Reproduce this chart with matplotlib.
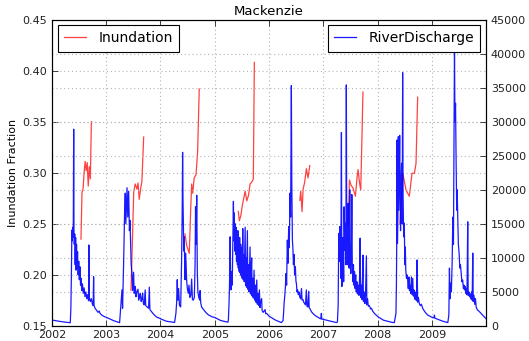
import matplotlib
matplotlib.use("Agg")
import matplotlib.pyplot as plt
import matplotlib.dates as mdates
import numpy as np
import pandas as pd

# river discharge: (day of year, value) per year
q_2002 = [(0, 880), (45, 700), (90, 560), (123, 480), (127, 2600), (130, 6800), (134, 14100),
          (137, 12500), (140, 14500), (143, 13000), (146, 28900), (148, 14000), (150, 12000),
          (153, 13500), (156, 9000), (159, 13000), (162, 8200), (165, 12000), (168, 8500),
          (172, 10900), (176, 7500), (180, 9500), (184, 6800), (188, 8700), (192, 6000),
          (196, 7000), (200, 5200), (205, 6200), (210, 4800), (216, 5600), (222, 4300),
          (228, 5000), (234, 4000), (240, 4600), (246, 3700), (248, 11900), (251, 4200),
          (258, 3600), (265, 4000), (272, 3200), (277, 3000), (280, 7240), (283, 3000),
          (290, 2600), (300, 2300), (310, 2000), (318, 2200), (322, 1900), (335, 1600),
          (350, 1400), (364, 1280)]
q_2003 = [(0, 1280), (50, 780), (90, 490), (99, 3300), (106, 5300), (110, 2600), (117, 9200),
          (124, 17000), (128, 19500), (132, 15000), (140, 20300), (145, 16000), (151, 19800),
          (156, 14000), (160, 15500), (164, 12000), (168, 9000), (173, 7700), (178, 5200),
          (184, 7900), (188, 4800), (192, 5200), (196, 5800), (200, 4300), (206, 5000),
          (214, 5400), (218, 3800), (224, 4300), (229, 4800), (235, 3600), (240, 3900),
          (245, 4800), (250, 3300), (256, 3100), (262, 5300), (266, 3000), (275, 2800),
          (285, 2600), (290, 5700), (294, 2400), (305, 2100), (320, 1700), (340, 1300),
          (364, 1100)]
q_2004 = [(0, 1050), (40, 700), (95, 520), (104, 1860), (109, 3500), (113, 6800), (117, 3800),
          (122, 5500), (128, 3000), (136, 2800), (142, 9300), (146, 16000), (149, 25500),
          (152, 18000), (154, 15100), (157, 11000), (160, 13100), (165, 6800), (170, 10700),
          (176, 6800), (181, 5500), (187, 4800), (192, 6000), (198, 4200), (204, 4500),
          (210, 6900), (215, 3900), (221, 3800), (228, 4200), (233, 9000), (236, 17500),
          (240, 12000), (244, 19200), (248, 8000), (252, 5000), (258, 4200), (264, 3800),
          (267, 5200), (271, 3400), (277, 2800), (290, 2400), (311, 1860), (325, 1600),
          (335, 1500), (344, 1370), (364, 1250)]
q_2005 = [(0, 1250), (40, 800), (88, 560), (91, 900), (95, 3000), (98, 5300), (101, 9000),
          (103, 13100), (106, 7000), (109, 5300), (113, 8000), (117, 6000), (121, 12000),
          (125, 18300), (128, 12500), (131, 16600), (134, 11000), (137, 15000), (140, 10500),
          (143, 14500), (146, 9500), (149, 13500), (152, 9000), (155, 14000), (158, 8500),
          (161, 12500), (164, 8000), (167, 13000), (170, 7800), (174, 12000), (177, 7400),
          (181, 11500), (184, 7000), (188, 14300), (191, 6800), (195, 10500), (198, 6500),
          (201, 11000), (204, 14500), (207, 6000), (210, 10000), (213, 5700), (216, 9500),
          (219, 14000), (222, 5400), (226, 9000), (230, 5000), (234, 8500), (237, 11600),
          (240, 4700), (244, 8000), (248, 10000), (251, 4400), (255, 7000), (259, 4100),
          (264, 8200), (268, 3800), (273, 6000), (277, 3500), (282, 6750), (286, 3200),
          (291, 4800), (295, 3000), (300, 5300), (304, 2700), (308, 3500), (315, 4000),
          (318, 2300), (325, 2000), (338, 2400), (342, 1800), (349, 1860), (364, 1450)]
q_2006 = [(0, 1450), (40, 900), (83, 500), (94, 800), (98, 2000), (101, 3300), (106, 4500),
          (110, 5800), (114, 7700), (118, 6000), (123, 12600), (127, 9200), (132, 14600),
          (136, 11500), (141, 19500), (145, 16000), (150, 35300), (153, 21000), (157, 12600),
          (160, 11600), (164, 9000), (168, 10500), (172, 7500), (177, 8700), (181, 6500),
          (184, 6300), (188, 5000), (192, 5300), (197, 4600), (202, 5000), (206, 4300),
          (212, 4000), (218, 5500), (222, 3800), (228, 3900), (233, 3500), (240, 3300),
          (245, 3100), (251, 5300), (255, 2900), (261, 2800), (267, 5100), (270, 2700),
          (276, 2500), (285, 2100), (295, 1850), (307, 1600), (320, 1400), (335, 1200),
          (348, 1050), (352, 1860), (355, 1000), (364, 980)]
q_2007 = [(0, 980), (40, 750), (90, 500), (95, 600), (100, 3000), (104, 13600), (107, 9500),
          (111, 14600), (115, 13000), (118, 7000), (122, 28400), (125, 5800), (129, 8700),
          (133, 13000), (137, 6500), (140, 17500), (144, 11100), (148, 15100), (152, 9000),
          (155, 35400), (158, 12000), (161, 9000), (164, 13500), (167, 18000), (170, 10400),
          (174, 8500), (178, 20000), (181, 9000), (185, 7700), (189, 12000), (192, 19300),
          (195, 8700), (199, 6500), (203, 9000), (206, 6000), (210, 8000), (214, 5500),
          (218, 7500), (222, 5000), (226, 6500), (230, 4700), (235, 6000), (240, 4500),
          (244, 7000), (248, 12900), (251, 4200), (256, 6000), (260, 3900), (264, 7200),
          (267, 10400), (270, 3600), (275, 5000), (280, 3300), (284, 4500), (290, 10300),
          (293, 3100), (298, 4000), (303, 2900), (310, 3000), (318, 2500), (324, 2600),
          (332, 2200), (346, 1800), (364, 1450)]
q_2008 = [(0, 1400), (40, 850), (100, 520), (113, 500), (124, 1860), (127, 6000), (129, 11600),
          (131, 27300), (134, 12100), (137, 16000), (140, 27800), (143, 17000), (146, 22000),
          (149, 28000), (152, 20000), (155, 14000), (158, 21000), (162, 23900), (166, 15000),
          (169, 37200), (172, 19000), (176, 13100), (180, 15100), (184, 9000), (187, 11600),
          (190, 8200), (195, 7000), (199, 7500), (203, 6700), (207, 5500), (211, 7200),
          (215, 5200), (219, 6000), (223, 4800), (228, 7200), (232, 4600), (237, 7000),
          (241, 4400), (245, 5300), (248, 4300), (253, 3900), (258, 5000), (262, 3700),
          (266, 9700), (270, 3500), (275, 4200), (281, 3300), (288, 3000), (295, 3200),
          (304, 2600), (315, 2200), (325, 1900), (338, 1600), (352, 1450), (364, 1300)]
q_2009 = [(0, 1300), (14, 1200), (17, 1600), (20, 1150), (73, 700), (107, 500), (114, 1600),
          (118, 8500), (122, 4000), (126, 6300), (131, 5000), (136, 9200), (141, 16000),
          (145, 12000), (148, 25000), (152, 41000), (155, 30000), (159, 32700), (163, 23900),
          (167, 17000), (170, 20000), (174, 15600), (178, 12000), (183, 10700), (188, 8500),
          (192, 9000), (197, 7700), (202, 6500), (207, 6750), (212, 5500), (216, 6000),
          (219, 5300), (224, 5800), (228, 4800), (232, 5500), (236, 4600), (241, 15300),
          (244, 4500), (249, 5000), (253, 4300), (258, 4700), (262, 4000), (267, 5000),
          (271, 3800), (275, 10700), (278, 3600), (283, 4500), (288, 3200), (293, 4000),
          (298, 2800), (305, 2400), (320, 2100), (342, 1600), (363, 1100)]

# inundation fraction, summer only
f_2002 = [(195, 0.235), (202, 0.281), (209, 0.284), (216, 0.300), (223, 0.311), (230, 0.302),
          (237, 0.310), (244, 0.287), (251, 0.306), (258, 0.294), (265, 0.350)]
f_2003 = [(167, 0.185), (185, 0.281), (195, 0.289), (207, 0.284), (214, 0.290), (222, 0.274),
          (232, 0.285), (240, 0.2915), (252, 0.335)]
f_2004 = [(165, 0.240), (176, 0.229), (194, 0.221), (203, 0.262), (210, 0.289), (217, 0.280),
          (227, 0.295), (239, 0.298), (250, 0.320), (261, 0.382)]
f_2005 = [(158, 0.262), (165, 0.253), (175, 0.258), (185, 0.268), (204, 0.282), (215, 0.2725),
          (227, 0.278), (237, 0.289), (249, 0.291), (259, 0.294), (266, 0.408)]
f_2006 = [(207, 0.273), (213, 0.282), (222, 0.262), (229, 0.284), (240, 0.291), (251, 0.304),
          (262, 0.295), (274, 0.307)]
f_2007 = [(167, 0.249), (176, 0.293), (186, 0.288), (200, 0.285), (216, 0.277), (227, 0.295),
          (234, 0.303), (244, 0.290), (252, 0.283), (267, 0.379)]
f_2008 = [(151, 0.250), (170, 0.2995), (192, 0.283), (214, 0.277), (232, 0.2995), (248, 0.2995),
          (259, 0.309), (270, 0.374)]

discharge = {2002: q_2002, 2003: q_2003, 2004: q_2004, 2005: q_2005,
             2006: q_2006, 2007: q_2007, 2008: q_2008, 2009: q_2009}
inundation = {2002: f_2002, 2003: f_2003, 2004: f_2004, 2005: f_2005,
              2006: f_2006, 2007: f_2007, 2008: f_2008}


def to_dates(year, pairs):
    days = np.array([p[0] for p in pairs], dtype=float)
    vals = np.array([p[1] for p in pairs], dtype=float)
    dates = pd.Timestamp(f"{year}-01-01") + pd.to_timedelta(days, unit="D")
    return dates, vals


q_dates, q_vals = [], []
for yr, pairs in discharge.items():
    d, v = to_dates(yr, pairs)
    q_dates.extend(d)
    q_vals.extend(v)

fig = plt.figure(figsize=(5.29, 3.41), dpi=100)
ax1 = fig.add_axes([0.0983, 0.044, 0.8204, 0.8988])
ax2 = ax1.twinx()

grid_kw = dict(color="#b4b4b4", linestyle=(0, (1, 2.5)), linewidth=0.8)

first = True
for yr, pairs in inundation.items():
    d, v = to_dates(yr, pairs)
    ax1.plot(d, v, color="#ff2020", lw=0.9, alpha=0.85,
             label="Inundation" if first else None)
    first = False

ax2.plot(q_dates, q_vals, color="#0000ff", lw=0.9, alpha=0.9, label="RiverDischarge")

ax1.set_xlim(pd.Timestamp("2002-01-01"), pd.Timestamp("2009-12-31"))
ax1.set_ylim(0.15, 0.45)
ax1.set_yticks(np.arange(0.15, 0.451, 0.05))
ax1.yaxis.set_major_formatter(matplotlib.ticker.FormatStrFormatter("%.2f"))
ax2.set_ylim(0, 45000)
ax2.set_yticks(np.arange(0, 45001, 5000))

ax1.xaxis.set_major_locator(mdates.YearLocator())
ax1.xaxis.set_major_formatter(mdates.DateFormatter("%Y"))

ax1.grid(True, **grid_kw)
ax2.yaxis.grid(True, **grid_kw)

for ax in (ax1, ax2):
    ax.tick_params(direction="in", labelsize=8, length=4, width=0.6, colors="#222222")
    for s in ax.spines.values():
        s.set_linewidth(0.8)
ax1.tick_params(axis="x", pad=3, top=True)

ax1.set_title("Mackenzie", fontsize=9.5, pad=3)
ax1.set_ylabel("Inundation Fraction", fontsize=8, labelpad=3)

leg_kw = dict(fontsize=10, fancybox=False, edgecolor="black", framealpha=1,
              handlelength=1.6, handletextpad=0.9, borderpad=0.45, borderaxespad=0.4)
l1 = ax1.legend(loc="upper left", **leg_kw)
l1.get_frame().set_linewidth(0.8)
l2 = ax2.legend(loc="upper right", **leg_kw)
l2.get_frame().set_linewidth(0.8)

fig.savefig("out.png", dpi=100)
